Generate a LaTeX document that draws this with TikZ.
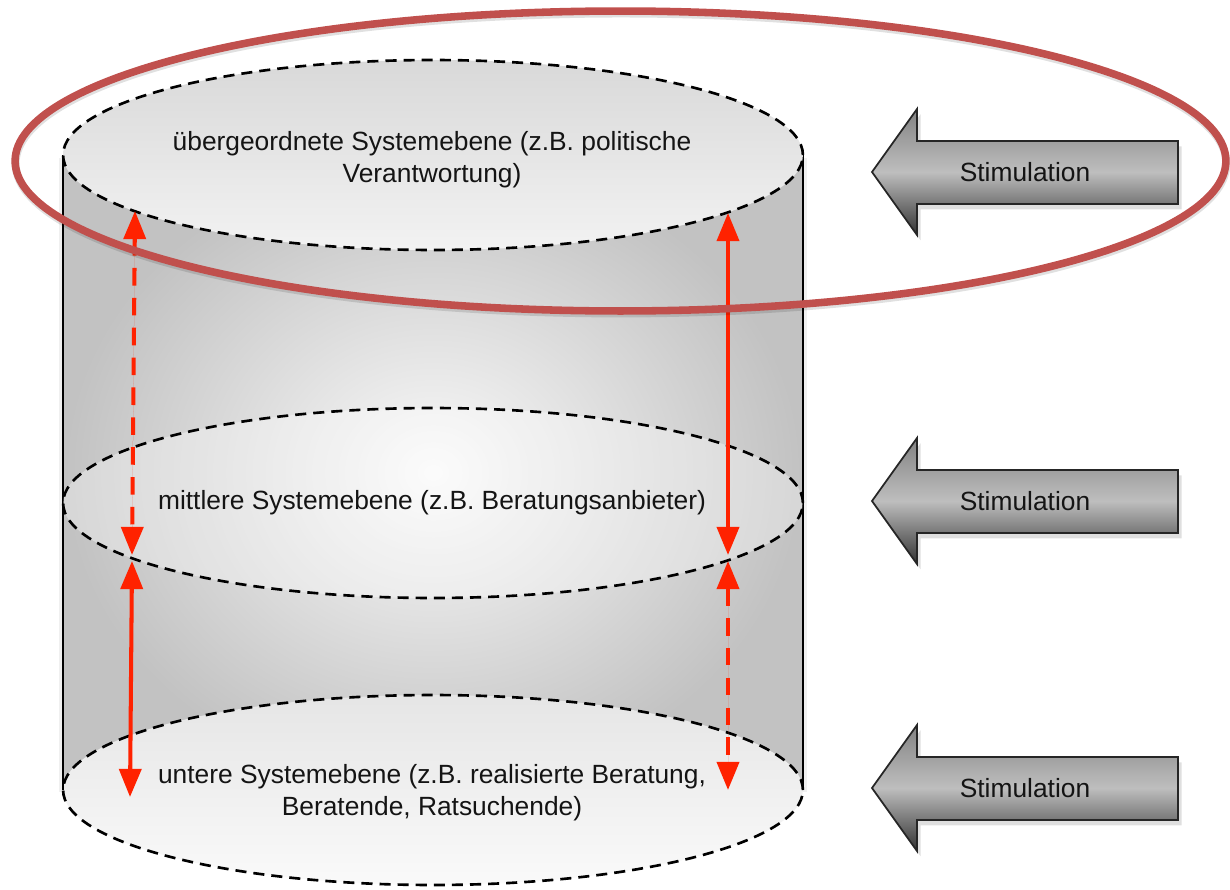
\documentclass[tikz,border=0pt]{standalone}
\usepackage{fontspec}
\setmainfont{Liberation Sans}
\usetikzlibrary{arrows.meta,shadows}
\definecolor{redarrow}{RGB}{255,34,0}
\definecolor{ringred}{RGB}{192,80,77}
\definecolor{stimtop}{RGB}{130,130,130}
\definecolor{stimmid}{RGB}{190,190,190}
\definecolor{stimbot}{RGB}{50,50,50}
\begin{document}
\begin{tikzpicture}[x=0.02cm,y=-0.02cm,
  lvl/.style={draw=black, line width=1.5pt, dash pattern=on 6.3pt off 4pt},
  lbl/.style={font=\fontsize{15}{18.3}\selectfont, align=center, inner sep=0pt, text=black!92},
  rarrow/.style={draw=redarrow, fill=redarrow, line width=2.3pt,
     {Triangle[length=16pt,width=12.5pt]}-{Triangle[length=16pt,width=12.5pt]}},
  rdash/.style={rarrow, dash pattern=on 10pt off 7pt},
  stimshape/.style={draw=black!85, line width=1pt, top color=stimtop, bottom color=stimbot, middle color=stimmid,
     drop shadow={shadow xshift=2pt, shadow yshift=-3pt, opacity=0.25}},
  stimtxt/.style={font=\fontsize{15}{18}\selectfont, inner sep=0pt, text=black!92}
]
\useasboundingbox (0,0) rectangle (1230,889);
% cylinder body
\fill[black, opacity=0.06] (59,158) rectangle (807,792);
\shade[inner color=black!2, outer color=black!24] (63,155) rectangle (803,790);
% bottom ellipse
\shade[top color=black!10, bottom color=black!2] (433,790) ellipse [x radius=7.4cm, y radius=1.9cm];
\draw[lvl] (433,790) ellipse [x radius=7.4cm, y radius=1.9cm];
% side lines
\draw[black, line width=1.1pt] (63,155) -- (63,790);
\draw[black, line width=1.1pt] (803,155) -- (803,790);
% middle ellipse
\fill[white, opacity=0.35] (433,503) ellipse [x radius=7.4cm, y radius=1.9cm];
\draw[lvl] (433,503) ellipse [x radius=7.4cm, y radius=1.9cm];
% top ellipse
\shade[top color=black!15, bottom color=black!5] (433,155) ellipse [x radius=7.4cm, y radius=1.9cm];
\draw[lvl] (433,155) ellipse [x radius=7.4cm, y radius=1.9cm];
% labels
\node[lbl] (top) at (432,160) {übergeordnete Systemebene (z.B. politische\\Verantwortung)};
\node[lbl] (mid) at (432,503) {mittlere Systemebene (z.B. Beratungsanbieter)};
\node[lbl] (bot) at (432,793) {untere Systemebene (z.B. realisierte Beratung,\\Beratende, Ratsuchende)};
% red arrows
\coordinate (tL) at (135,211);
\coordinate (mLa) at (132,555);
\coordinate (mLb) at (132,561);
\coordinate (bL) at (130,797);
\coordinate (tR) at (728,213);
\coordinate (mRa) at (728,555);
\coordinate (mRb) at (728,561);
\coordinate (bR) at (728,790);
\draw[rdash] (tL) -- (mLa);
\draw[rarrow] (mLb) -- (bL);
\draw[rarrow] (tR) -- (mRa);
\draw[rdash] (mRb) -- (bR);
% red ring
\draw[black, opacity=0.12, line width=4.5pt] (621,163.5) ellipse [x radius=12.11cm, y radius=3cm];
\draw[ringred, line width=4.3pt] (620.5,161) ellipse [x radius=12.11cm, y radius=3cm];
% stimulation arrows
\foreach \c/\n in {172/s1, 501/s2, 788/s3}{
  \path[stimshape] (872,\c) -- (917,\c-63) -- (917,\c-31) -- (1178,\c-31) -- (1178,\c+32) -- (917,\c+32) -- (917,\c+63) -- cycle;
  \node[stimtxt] (\n) at (1025,\c) {Stimulation};
}
\end{tikzpicture}
\end{document}
